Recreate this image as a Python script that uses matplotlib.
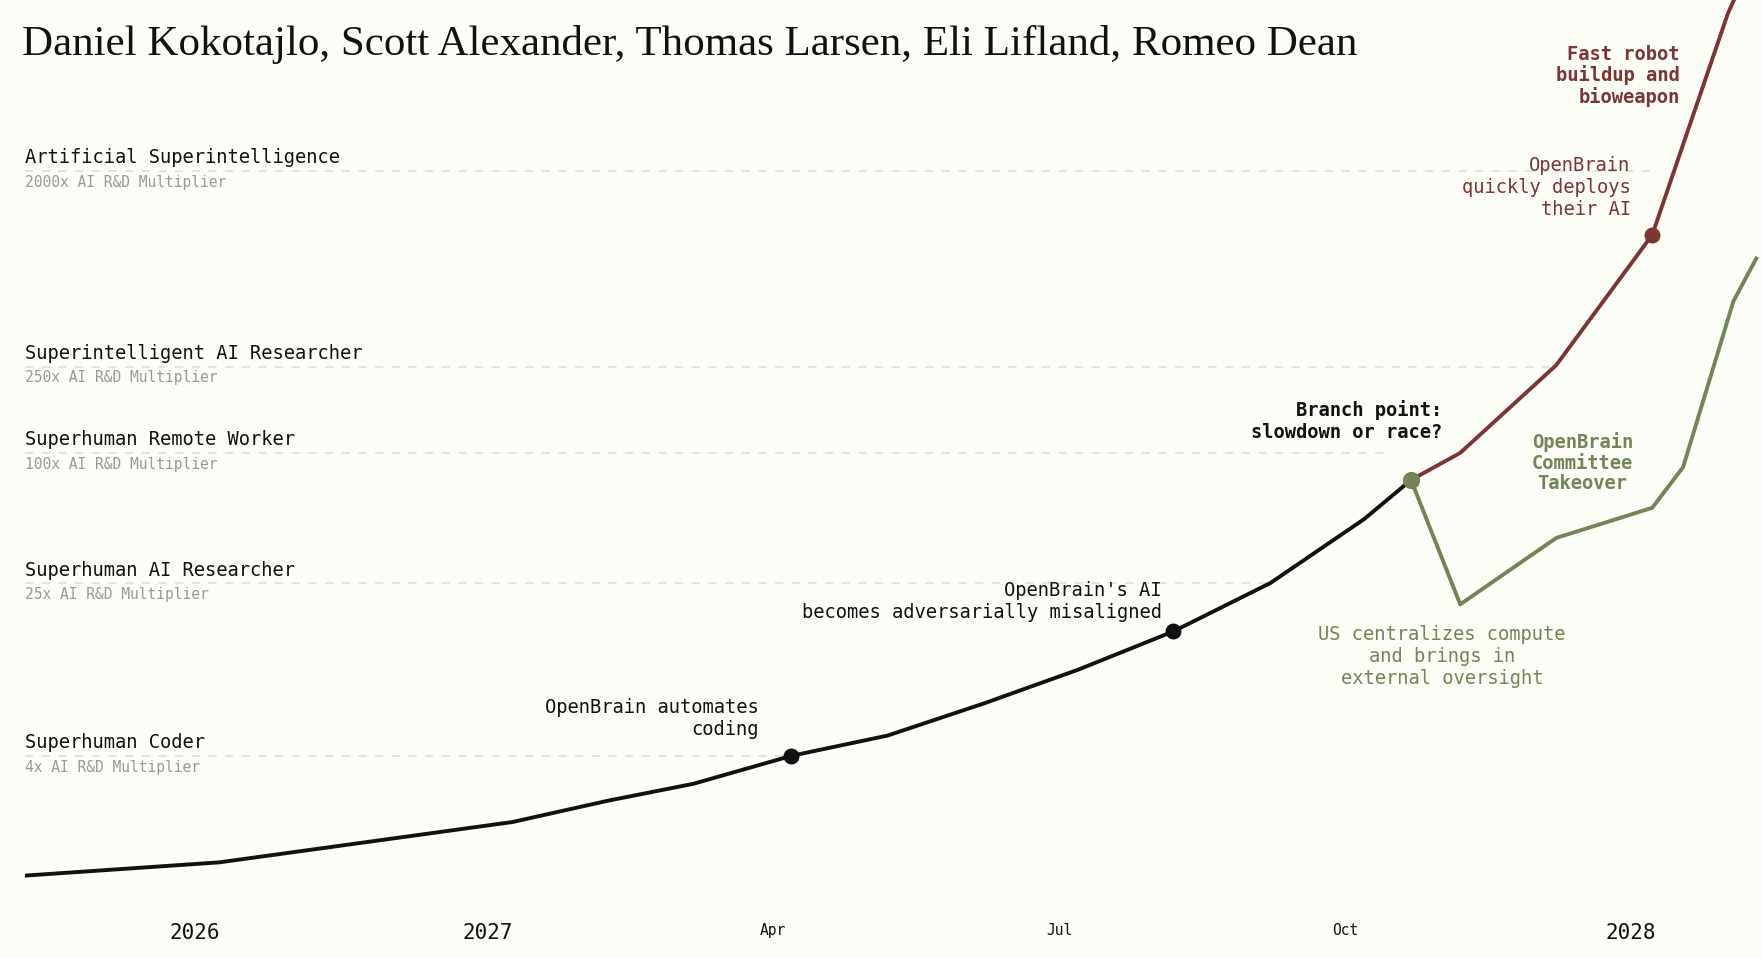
import numpy as np
import matplotlib
matplotlib.use("Agg")
import matplotlib.pyplot as plt
from matplotlib.scale import FuncScale

# ---- data ----
main_dates = [2025.42, 2026.085, 2027.022, 2027.105, 2027.18, 2027.266, 2027.35, 2027.435,
              2027.517, 2027.60, 2027.685, 2027.767, 2027.808]
main_vals = [1.12, 1.29, 1.98, 2.48, 2.97, 4.0, 4.96, 7.0, 10.0, 15.0, 25.1, 49.5, 75]
race_dates = [2027.808, 2027.851, 2027.935, 2028.019, 2028.085, 2028.10]
race_vals = [75, 100, 254, 1014, 10600, 16000]
slow_dates = [2027.808, 2027.851, 2027.935, 2028.019, 2028.046, 2028.09, 2028.11]
slow_vals = [75, 20, 40.5, 55.8, 86, 501, 789]

levels = ["Superhuman Coder", "Superhuman AI Researcher", "Superhuman Remote Worker",
          "Superintelligent AI Researcher", "Artificial Superintelligence"]
level_mult = [4, 25, 100, 250, 2000]
level_sub = ["4x AI R&D Multiplier", "25x AI R&D Multiplier", "100x AI R&D Multiplier",
             "250x AI R&D Multiplier", "2000x AI R&D Multiplier"]
level_end = [2027.266, 2027.685, 2027.79, 2027.935, 2028.02]

tick_dates = [2026, 2027, 2027.25, 2027.5, 2027.75, 2028]
tick_labels = ["2026", "2027", "Apr", "Jul", "Oct", "2028"]

BG = "#fdfdf7"
BLACK = "#111111"
RED = "#7a3535"
GREEN = "#728458"
MONO = "DejaVu Sans Mono"

# piecewise time scale: pre-2027 compressed
def fwd(x):
    x = np.asarray(x, dtype=float)
    return np.where(x < 2027, 2027 + (x - 2027) * 260 / 1015, x)
def inv(y):
    y = np.asarray(y, dtype=float)
    return np.where(y < 2027, 2027 + (y - 2027) * 1015 / 260, y)

fig = plt.figure(figsize=(17.62, 9.58), dpi=100, facecolor=BG)
ax = fig.add_axes([22 / 1568, 1 - 790 / 853, 1546 / 1568, 790 / 853])
ax.set_facecolor(BG)
ax.set_xscale(FuncScale(ax, (fwd, inv)))
ax.set_yscale("log")
ax.set_xlim(2025.42, 2028.115)
ax.set_ylim(0.99, 12300)
for s in ax.spines.values():
    s.set_visible(False)
ax.set_yticks([])
ax.yaxis.set_minor_locator(matplotlib.ticker.NullLocator())
ax.set_xticks(tick_dates)
ax.set_xticklabels(tick_labels, family=MONO)
ax.tick_params(axis="x", length=0, pad=26)
for lab, t in zip(ax.get_xticklabels(), tick_labels):
    lab.set_fontsize(15 if t.isdigit() else 10.5)
    lab.set_color(BLACK)

for name, m, sub, end in zip(levels, level_mult, level_sub, level_end):
    ax.plot([2025.42, end], [m, m], ls=(0, (5, 5)), color="#dddddd", lw=1.2, zorder=1)
    ax.text(2025.42, m * 1.04, name, family=MONO, fontsize=13.5, color=BLACK, va="bottom",
            bbox=dict(fc=BG, ec="none", pad=2), zorder=2)
    ax.text(2025.42, m / 1.04, sub, family=MONO, fontsize=10.5, color="#999999", va="top",
            bbox=dict(fc=BG, ec="none", pad=2), zorder=2)

ax.plot(race_dates, race_vals, color=RED, lw=2.8, zorder=3)
ax.plot(slow_dates, slow_vals, color=GREEN, lw=2.8, zorder=3)
ax.plot(main_dates, main_vals, color=BLACK, lw=2.8, zorder=4)
ax.scatter([2027.266, 2027.60], [4.0, 15.0], s=110, color=BLACK, zorder=5)
ax.scatter([2028.019], [1014], s=110, color=RED, zorder=5)
ax.scatter([2027.808], [75], s=130, color=GREEN, zorder=5)

ax.text(2027.237, 4.8, "OpenBrain automates\ncoding", family=MONO, fontsize=13.5,
        ha="right", va="bottom", color=BLACK)
ax.text(2027.59, 16.5, "OpenBrain's AI\nbecomes adversarially misaligned", family=MONO,
        fontsize=13.5, ha="right", va="bottom", color=BLACK)
ax.text(2027.835, 112, "Branch point:\nslowdown or race?", family=MONO, fontsize=13.5,
        ha="right", va="bottom", color=BLACK, weight="bold")
ax.text(2028.0, 1200, "OpenBrain\nquickly deploys\ntheir AI", family=MONO, fontsize=13.5,
        ha="right", va="bottom", color=RED)
ax.text(2028.043, 5500, "Fast robot\nbuildup and\nbioweapon", family=MONO, fontsize=13.5,
        ha="right", va="center", color=RED, weight="bold", linespacing=1.1)
ax.text(2027.958, 90, "OpenBrain\nCommittee\nTakeover", family=MONO, fontsize=13.5,
        ha="center", va="center", color=GREEN, weight="bold", linespacing=1.1)
ax.text(2027.835, 16, "US centralizes compute\nand brings in\nexternal oversight", family=MONO,
        fontsize=13.5, ha="center", va="top", color=GREEN)

fig.text(20 / 1568, 1 - 40 / 853, "Daniel Kokotajlo, Scott Alexander, Thomas Larsen, Eli Lifland, Romeo Dean",
         family="Liberation Serif", fontsize=31, va="center", ha="left", color=BLACK)

fig.savefig("out.png", dpi=100, facecolor=BG)
